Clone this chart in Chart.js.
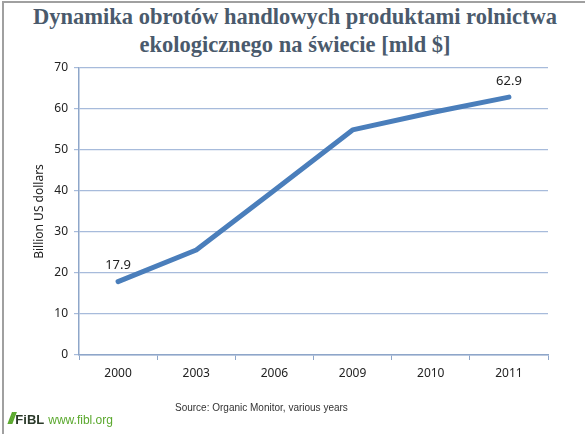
<!DOCTYPE html>
<html>
<head>
<meta charset="utf-8">
<script src="https://cdn.jsdelivr.net/npm/chart.js@4"></script>
<style>
  body { margin: 0; background: #fff; }
  #wrap { position: relative; width: 585px; height: 434px; overflow: hidden; }
  #frame { position: absolute; left: 2px; top: 1px; width: 600px; height: 440px; border-left: 2px solid #a0a0a0; border-top: 2px solid #a0a0a0; }
  #title { position: absolute; left: 0; top: 3px; width: 590px; text-align: center; font-family: "Liberation Serif", serif; font-weight: bold; font-size: 22.5px; line-height: 28px; color: #4a5a6c; }
  #source { position: absolute; left: 175px; top: 402px; font-family: "Liberation Sans", Arial, sans-serif; font-size: 10px; color: #333; }
  #logo { position: absolute; left: 8px; top: 410px; font-family: "Liberation Sans", Arial, sans-serif; }
  #logo .mark { color: #5aa82d; font-weight: bold; font-size: 16px; font-style: italic; letter-spacing: -3px; }
  #logo .fibl { color: #2b3a2a; font-weight: bold; font-size: 13px; margin-left: 3px; }
  #logo .url { color: #5aa82d; font-size: 12px; margin-left: 4px; }
  canvas { position: absolute; left: 0; top: 0; }
</style>
</head>
<body>
<div id="wrap">
  <div id="frame"></div>
  <div id="title">Dynamika obrotów handlowych produktami rolnictwa<br>ekologicznego na świecie [mld $]</div>
  <canvas id="chart" width="585" height="434"></canvas>
  <div id="source">Source: Organic Monitor, various years</div>
  <div id="logo"><span class="mark">///</span><span class="fibl">FiBL</span><span class="url">www.fibl.org</span></div>
</div>
<script>
const years = ['2000', '2003', '2006', '2009', '2010', '2011'];
const salesBillionUsd = [17.9, 25.6, 40.2, 54.9, 59.1, 62.9];
const labelledPoints = [0, 5];
const yTicksMax = 70;
const yTicksStep = 10;

const axisColor = '#8ea6c9';
const gridColor = '#a7bbdb';
const lineColor = '#4a7ebb';

// draws the value labels above the first and last points
const pointLabels = {
  id: 'pointLabels',
  afterDatasetsDraw(chart) {
    const ctx = chart.ctx;
    const meta = chart.getDatasetMeta(0);
    ctx.save();
    ctx.font = '13px "Noto Sans", sans-serif';
    ctx.fillStyle = '#222';
    ctx.textAlign = 'center';
    ctx.textBaseline = 'middle';
    labelledPoints.forEach((i) => {
      const pt = meta.data[i];
      ctx.fillText(salesBillionUsd[i].toFixed(1), pt.x, pt.y - 16);
    });
    ctx.restore();
  },
};

new Chart(document.getElementById('chart').getContext('2d'), {
  type: 'line',
  data: {
    labels: years,
    datasets: [
      {
        data: salesBillionUsd,
        borderColor: lineColor,
        borderWidth: 5,
        pointRadius: 0,
        tension: 0,
        fill: false,
        borderCapStyle: 'round',
        borderJoinStyle: 'round',
      },
    ],
  },
  options: {
    responsive: false,
    animation: false,
    layout: { padding: { left: 32, right: 37, top: 68, bottom: 0 } },
    plugins: {
      legend: { display: false },
      tooltip: { enabled: false },
    },
    scales: {
      x: {
        offset: true,
        grid: {
          offset: true,
          drawOnChartArea: false,
          drawTicks: true,
          tickLength: 5,
          color: axisColor,
        },
        border: { color: axisColor, width: 1.5 },
        ticks: {
          color: '#222',
          font: { family: '"Noto Sans", sans-serif', size: 12 },
          padding: 6,
        },
        afterFit: (scale) => { scale.height = 79; },
      },
      y: {
        min: 0,
        max: yTicksMax,
        grid: { color: gridColor, lineWidth: 1.2, tickLength: 5, drawTicks: true },
        border: { color: axisColor, width: 1.5 },
        ticks: {
          stepSize: yTicksStep,
          color: '#222',
          font: { family: '"Noto Sans", sans-serif', size: 12 },
          padding: 6,
        },
        title: {
          display: true,
          text: 'Billion US dollars',
          color: '#222',
          font: { family: '"Noto Sans", sans-serif', size: 12 },
          padding: { top: 0, bottom: 0 },
        },
        afterFit: (scale) => { scale.width = 47; },
      },
    },
  },
  plugins: [pointLabels],
});
</script>
</body>
</html>
